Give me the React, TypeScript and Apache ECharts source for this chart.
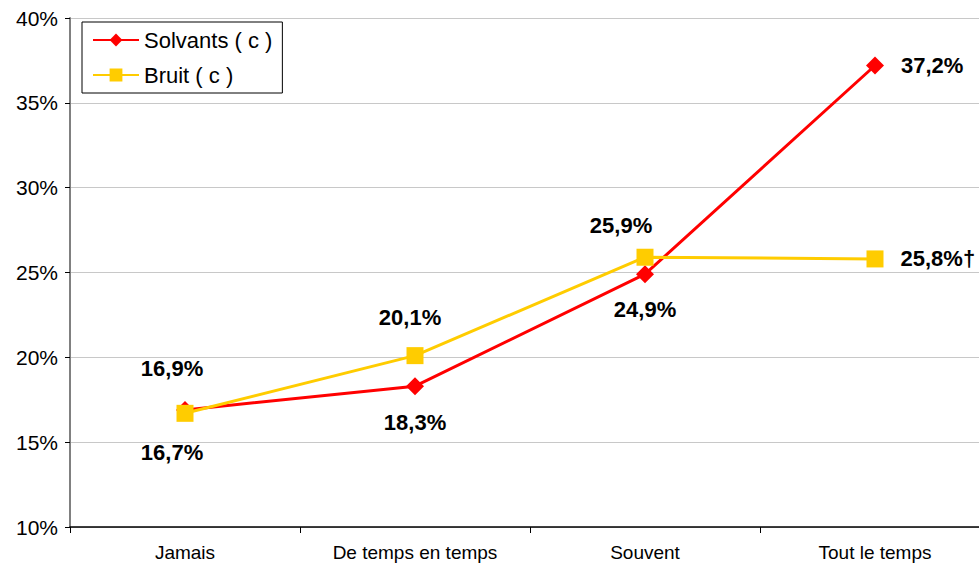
import React, { useEffect, useRef } from "react";
import * as echarts from "echarts";

const categories = ["Jamais", "De temps en temps", "Souvent", "Tout le temps"];
const solvants = [16.9, 18.3, 24.9, 37.2];
const bruit = [16.7, 20.1, 25.9, 25.8];
const solvantsLabels = ["16,9%", "18,3%", "24,9%", "37,2%"];
const bruitLabels = ["16,7%", "20,1%", "25,9%", "25,8%†"];
const yTicks = [10, 15, 20, 25, 30, 35, 40];

export default function App() {
  const ref = useRef<HTMLDivElement>(null);
  useEffect(() => {
    const chart = echarts.init(ref.current!, null, { renderer: "svg" });
    const labelFont = {
      fontFamily: "Liberation Sans, Arial, sans-serif",
      fontWeight: "bold" as const,
      fontSize: 22,
      color: "#000",
    };
    const solvPos: any[] = [
      { position: "top", distance: 21, offset: [-13, 0] },
      { position: "bottom", distance: 16, offset: [0, 0] },
      { position: "bottom", distance: 15, offset: [0, 0] },
      { position: "right", distance: 17, offset: [0, 0] },
    ];
    const bruitPos: any[] = [
      { position: "bottom", distance: 20, offset: [-13, 0] },
      { position: "top", distance: 19, offset: [-5, 0] },
      { position: "top", distance: 12, offset: [-24, 0] },
      { position: "right", distance: 17, offset: [0, 0] },
    ];
    chart.setOption({
      animation: false,
      backgroundColor: "#fff",
      grid: { left: 70, top: 18, bottom: 38, right: 12, containLabel: false },
      legend: {
        left: 82,
        top: 22,
        orient: "vertical",
        padding: [7, 10, 7, 10],
        itemGap: 13,
        itemWidth: 46,
        itemHeight: 16,
        borderColor: "#000",
        borderWidth: 1,
        backgroundColor: "#fff",
        textStyle: {
          fontFamily: "Liberation Sans, Arial, sans-serif",
          fontSize: 22,
          color: "#000",
        },
        data: ["Solvants ( c )", "Bruit ( c )"],
      },
      xAxis: {
        type: "category",
        data: categories,
        boundaryGap: true,
        axisLine: { lineStyle: { color: "#000", width: 1.5 } },
        axisTick: { show: true, length: 6, lineStyle: { color: "#000" } },
        axisLabel: {
          fontFamily: "Liberation Sans, Arial, sans-serif",
          fontSize: 19,
          color: "#000",
          margin: 16,
        },
      },
      yAxis: {
        type: "value",
        min: yTicks[0],
        max: yTicks[yTicks.length - 1],
        interval: 5,
        axisLine: { show: true, lineStyle: { color: "#808080", width: 2 } },
        axisTick: { show: true, length: 5, lineStyle: { color: "#000" } },
        splitLine: { show: true, lineStyle: { color: "#c8c8c8", width: 1 } },
        axisLabel: {
          formatter: "{value}%",
          fontFamily: "Liberation Sans, Arial, sans-serif",
          fontSize: 21,
          color: "#000",
          margin: 12,
        },
      },
      series: [
        {
          name: "Solvants ( c )",
          type: "line",
          data: solvants.map((v, i) => ({
            value: v,
            label: {
              show: true,
              formatter: solvantsLabels[i],
              ...labelFont,
              ...solvPos[i],
            },
          })),
          symbol: "diamond",
          symbolSize: 18,
          itemStyle: { color: "#ff0000" },
          lineStyle: { color: "#ff0000", width: 3 },
          z: 2,
        },
        {
          name: "Bruit ( c )",
          type: "line",
          data: bruit.map((v, i) => ({
            value: v,
            label: {
              show: true,
              formatter: bruitLabels[i],
              ...labelFont,
              ...bruitPos[i],
            },
          })),
          symbol: "rect",
          symbolSize: 17,
          itemStyle: { color: "#ffcc00" },
          lineStyle: { color: "#ffcc00", width: 3 },
          z: 3,
        },
      ],
    });
    return () => chart.dispose();
  }, []);
  return (
    <div style={{ position: "fixed", left: 0, top: 0, width: 979, height: 565, overflow: "hidden", background: "#fff" }}>
      <div ref={ref} style={{ width: 1002, height: 565 }} />
    </div>
  );
}
